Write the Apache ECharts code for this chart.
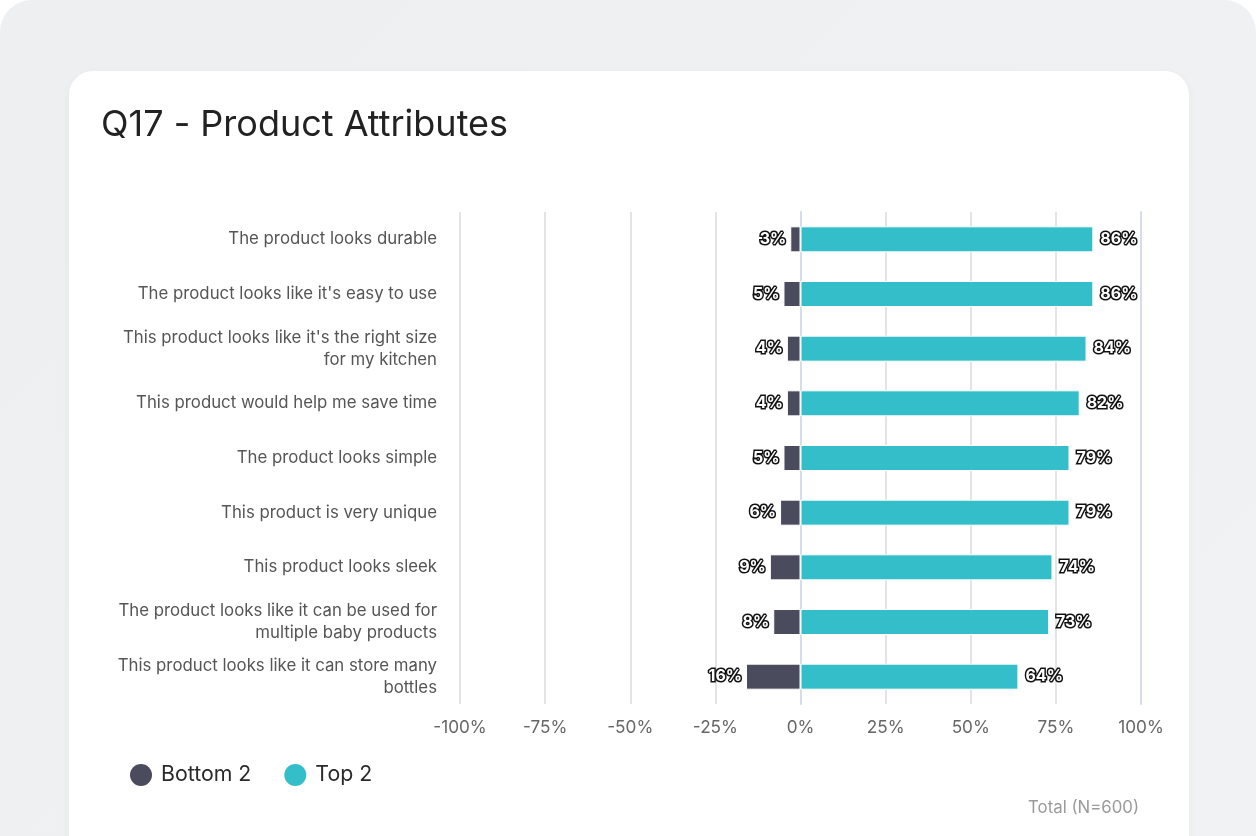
<!DOCTYPE html>
<html>
<head>
<meta charset="utf-8">
<script src="https://cdn.jsdelivr.net/npm/echarts@6/dist/echarts.min.js"></script>
<style>
  html, body { margin: 0; padding: 0; width: 1256px; height: 836px; overflow: hidden; background: #ffffff; }
  #outer { position: absolute; left: 0; top: 0; width: 1256px; height: 900px; border-radius: 32px; background: linear-gradient(135deg, #eeeff1 0%, #f1f2f4 100%); }
  #card { position: absolute; left: 69px; top: 71px; width: 1120px; height: 820px; border-radius: 24px; background: #ffffff; box-shadow: 0 2px 10px rgba(0,0,0,0.04); }
  #chart { position: absolute; left: 0; top: 0; width: 1256px; height: 836px; }
</style>
</head>
<body>
<div id="outer"></div>
<div id="card"></div>
<div id="chart"></div>
<script>
const categories = [
  "The product looks durable",
  "The product looks like it's easy to use",
  "This product looks like it's the right size\nfor my kitchen",
  "This product would help me save time",
  "The product looks simple",
  "This product is very unique",
  "This product looks sleek",
  "The product looks like it can be used for\nmultiple baby products",
  "This product looks like it can store many\nbottles"
];
const bottom2 = [3, 5, 4, 4, 5, 6, 9, 8, 16];
const top2 = [86, 86, 84, 82, 79, 79, 74, 73, 64];
const seriesNames = ["Bottom 2", "Top 2"];
const titleText = "Q17 - Product Attributes";
const footerText = "Total (N=600)";

const FONT = "Inter, 'Noto Sans', sans-serif";
const labelStyle = {
  show: true,
  color: '#ffffff',
  textBorderColor: '#111111',
  textBorderWidth: 3,
  fontFamily: FONT,
  fontWeight: 'bold',
  fontSize: 16
};

const chart = echarts.init(document.getElementById('chart'), null, { renderer: 'canvas' });
chart.setOption({
  backgroundColor: 'transparent',
  animation: false,
  title: [{
    text: titleText,
    left: 96, top: 102,
    textStyle: { fontFamily: FONT, fontSize: 36, fontWeight: 'normal', color: '#222222' }
  }, {
    text: footerText,
    right: 112, top: 794,
    textStyle: { fontFamily: FONT, fontSize: 16.8, fontWeight: 'normal', color: '#9a9a9a' }
  }],
  legend: {
    left: 125, top: 759,
    icon: 'circle',
    itemWidth: 22, itemHeight: 22,
    itemGap: 33,
    data: seriesNames,
    itemStyle: { borderWidth: 0 },
    textStyle: { fontFamily: FONT, fontSize: 21.3, color: '#2a2a2a', padding: [0, 0, 0, 4] }
  },
  grid: { left: 460, right: 115, top: 212, bottom: 132, containLabel: false },
  xAxis: {
    type: 'value',
    min: -100, max: 100, interval: 25,
    axisLine: { show: false },
    axisTick: { show: false },
    splitLine: { show: true, lineStyle: { color: '#e4e4e6', width: 2 } },
    axisLabel: {
      formatter: v => v + '%',
      fontFamily: FONT, fontSize: 17.2, color: '#666666', margin: 15
    }
  },
  yAxis: [{
    type: 'category',
    inverse: true,
    data: categories,
    axisLine: { show: true, lineStyle: { color: '#d5dcea', width: 2 } },
    axisTick: { show: false },
    axisLabel: {
      fontFamily: FONT, fontSize: 16.8, color: '#555555', margin: 23, lineHeight: 22, align: 'right'
    }
  }, {
    type: 'category',
    inverse: true,
    position: 'right',
    data: categories,
    axisLine: { show: true, lineStyle: { color: '#d5dcea', width: 2 } },
    axisTick: { show: false },
    axisLabel: { show: false }
  }],
  series: [{
    name: seriesNames[0],
    type: 'bar',
    stack: 'total',
    barWidth: 26,
    data: bottom2.map(v => -v),
    itemStyle: { color: '#4a4b5d', borderColor: '#ffffff', borderWidth: 1 },
    label: Object.assign({}, labelStyle, { position: 'left', distance: 4, formatter: p => Math.abs(p.value) + '%' })
  }, {
    name: seriesNames[1],
    type: 'bar',
    stack: 'total',
    barWidth: 26,
    data: top2,
    itemStyle: { color: '#33bec9', borderColor: '#ffffff', borderWidth: 1 },
    label: Object.assign({}, labelStyle, { position: 'right', distance: 7, formatter: p => p.value + '%' })
  }]
});
</script>
</body>
</html>
